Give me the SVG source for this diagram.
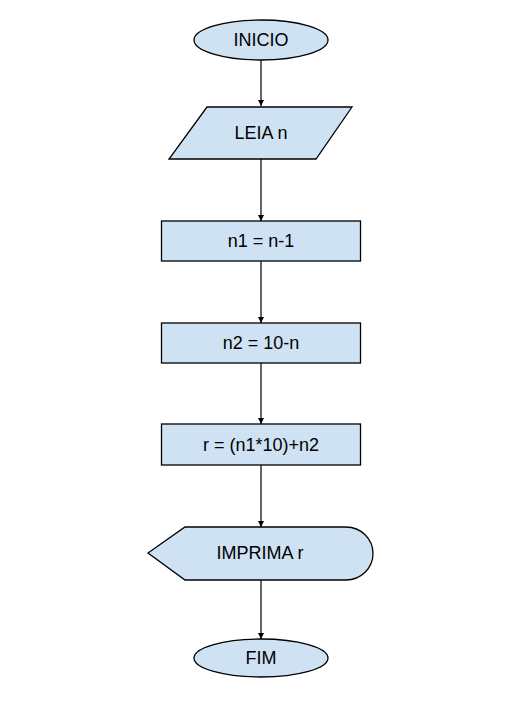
<svg xmlns="http://www.w3.org/2000/svg" width="509" height="720" viewBox="0 0 509 720">
<style>
.s{fill:#cfe2f3;stroke:#000;stroke-width:1.3}
.t{font-family:"Liberation Sans",Arial,sans-serif;font-size:18px;fill:#000;text-anchor:middle;dominant-baseline:central}
.c{stroke:#000;stroke-width:1.2;fill:none;marker-end:url(#a)}
</style>
<defs>
<marker id="a" viewBox="0 0 10 10" refX="10" refY="5" markerWidth="7" markerHeight="6" markerUnits="userSpaceOnUse" orient="auto">
<path d="M0,0 L10,5 L0,10 z" fill="#000"/>
</marker>
</defs>
<rect width="509" height="720" fill="#fff"/>
<g id="connectors">
<line class="c" x1="261" y1="60" x2="261" y2="106"/>
<line class="c" x1="261" y1="159" x2="261" y2="221"/>
<line class="c" x1="261" y1="261" x2="261" y2="323"/>
<line class="c" x1="261" y1="363" x2="261" y2="424"/>
<line class="c" x1="261" y1="465" x2="261" y2="527"/>
<line class="c" x1="261" y1="580" x2="261" y2="639"/>
</g>
<g id="inicio">
<ellipse class="s" cx="261" cy="40" rx="67" ry="20"/>
<text class="t" x="261" y="40">INICIO</text>
</g>
<g id="leia">
<polygon class="s" points="207,107 352,107 316,159 169,159"/>
<text class="t" x="261" y="133">LEIA n</text>
</g>
<g id="n1">
<rect class="s" x="161.5" y="221" width="199" height="40"/>
<text class="t" x="261" y="241">n1 = n-1</text>
</g>
<g id="n2">
<rect class="s" x="161.5" y="323" width="199" height="40"/>
<text class="t" x="261" y="343">n2 = 10-n</text>
</g>
<g id="r">
<rect class="s" x="161.5" y="424" width="199" height="41"/>
<text class="t" x="261" y="445">r = (n1*10)+n2</text>
</g>
<g id="imprima">
<path class="s" d="M148,553 L185,527 L346,527 A27,26.5 0 0 1 346,580 L185,580 Z"/>
<text class="t" x="260" y="553">IMPRIMA r</text>
</g>
<g id="fim">
<ellipse class="s" cx="261" cy="658" rx="67" ry="19"/>
<text class="t" x="261" y="658">FIM</text>
</g>
</svg>
